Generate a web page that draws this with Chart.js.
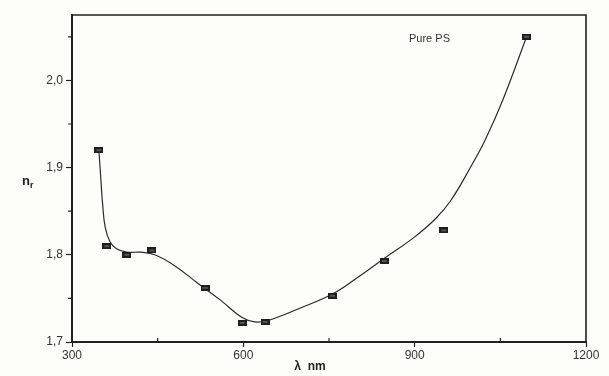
<!DOCTYPE html>
<html>
<head>
<meta charset="utf-8">
<script src="https://cdn.jsdelivr.net/npm/chart.js@4/dist/chart.umd.min.js"></script>
<style>
  html, body { margin: 0; padding: 0; background: #fdfdf9; }
  #wrap { width: 609px; height: 376px; }
</style>
</head>
<body>
<div id="wrap"><canvas id="c" width="609" height="376"></canvas></div>
<script>
// Measured refractive index of pure PS film vs. wavelength
const lambdaNm = [347, 361, 396, 440, 533, 598, 638, 756, 847, 951, 1096];
const nR       = [1.92, 1.81, 1.80, 1.805, 1.762, 1.722, 1.723, 1.753, 1.793, 1.828, 2.05];

// Smooth fitted curve through the measurements
const fitLambda = [347, 349.5, 353.5, 358, 366.5, 378, 396, 420, 445, 481, 519, 560, 598, 620, 645, 700, 756, 800, 847, 899, 936, 963, 1000, 1023, 1054, 1096];
const fitN      = [1.920, 1.897, 1.859, 1.832, 1.815, 1.807, 1.803, 1.803, 1.800, 1.787, 1.768, 1.748, 1.728, 1.723, 1.725, 1.739, 1.755, 1.774, 1.796, 1.820, 1.841, 1.862, 1.903, 1.931, 1.977, 2.050];

// Axis ticks
const xTicks = [300, 600, 900, 1200];
const xMinorTicks = [450, 750, 1050];
const yTicks = [1.7, 1.8, 1.9, 2.0];
const yMinorTicks = [1.75, 1.85, 1.95, 2.05];

const seriesLabel = 'Pure PS';
const xTitle = 'λ  nm';

// small flat rectangular marker
const marker = document.createElement('canvas');
marker.width = 9; marker.height = 6;
(function () {
  const g = marker.getContext('2d');
  g.fillStyle = '#1e1e1e';
  g.fillRect(0, 0, 9, 6);
  g.fillStyle = '#555';
  g.fillRect(2, 2, 5, 2);
})();

const ink = '#222';

const framePlugin = {
  id: 'frame',
  afterDraw(chart) {
    const { ctx, chartArea: a, scales } = chart;
    ctx.save();
    // top and right frame lines
    ctx.strokeStyle = ink;
    ctx.lineWidth = 1.6;
    ctx.beginPath();
    ctx.moveTo(a.left, a.top);
    ctx.lineTo(a.right, a.top);
    ctx.lineTo(a.right, a.bottom);
    ctx.stroke();

    // minor ticks
    ctx.lineWidth = 1.2;
    ctx.beginPath();
    yMinorTicks.forEach(v => {
      const y = scales.y.getPixelForValue(v);
      ctx.moveTo(a.left - 4, y);
      ctx.lineTo(a.left, y);
    });
    xMinorTicks.forEach(v => {
      const x = scales.x.getPixelForValue(v);
      ctx.moveTo(x, a.bottom);
      ctx.lineTo(x, a.bottom - 4);
    });
    ctx.stroke();

    // series label
    ctx.fillStyle = '#333';
    ctx.font = '11px "Liberation Sans", Arial, sans-serif';
    ctx.textBaseline = 'middle';
    ctx.textAlign = 'left';
    ctx.fillText(seriesLabel, 409, 39);

    // y-axis title n_r
    ctx.font = 'bold 13px "Liberation Sans", Arial, sans-serif';
    ctx.fillStyle = ink;
    ctx.fillText('n', 22, 181);
    ctx.font = 'bold 9px "Liberation Sans", Arial, sans-serif';
    ctx.fillText('r', 30, 186);

    // x-axis title
    ctx.font = 'bold 12px "Liberation Sans", Arial, sans-serif';
    ctx.textAlign = 'center';
    ctx.fillText(xTitle, 310, 367);
    ctx.restore();
  }
};

new Chart(document.getElementById('c'), {
  type: 'scatter',
  data: {
    datasets: [
      {
        label: 'fit',
        data: fitLambda.map((x, i) => ({ x, y: fitN[i] })),
        showLine: true,
        borderColor: '#2a2a2a',
        borderWidth: 1.2,
        pointRadius: 0,
        tension: 0.4,
        order: 2
      },
      {
        label: seriesLabel,
        data: lambdaNm.map((x, i) => ({ x, y: nR[i] })),
        showLine: false,
        pointStyle: marker,
        order: 1
      }
    ]
  },
  options: {
    responsive: false,
    animation: false,
    devicePixelRatio: 1,
    layout: { padding: { top: 15, right: 23, left: 0, bottom: 0 } },
    plugins: { legend: { display: false }, tooltip: { enabled: false } },
    scales: {
      x: {
        type: 'linear',
        min: 300, max: 1200,
        afterBuildTicks: s => { s.ticks = xTicks.map(v => ({ value: v })); },
        afterFit: s => { s.height = 34; },
        grid: { drawOnChartArea: false, tickLength: 5, tickColor: ink, tickWidth: 1.2 },
        border: { display: true, color: ink, width: 2 },
        ticks: {
          color: '#333', padding: 1, maxRotation: 0,
          font: { family: '"Liberation Sans", Arial, sans-serif', size: 12 },
          callback: v => String(v)
        }
      },
      y: {
        type: 'linear',
        min: 1.7, max: 2.075,
        afterBuildTicks: s => { s.ticks = yTicks.map(v => ({ value: v })); },
        afterFit: s => { s.width = 72; },
        grid: { drawOnChartArea: false, tickLength: 6, tickColor: ink, tickWidth: 1.2 },
        border: { display: true, color: ink, width: 2 },
        ticks: {
          color: '#333', padding: 3,
          font: { family: '"Liberation Sans", Arial, sans-serif', size: 12 },
          callback: v => v.toFixed(1).replace('.', ',')
        }
      }
    }
  },
  plugins: [framePlugin]
});
</script>
</body>
</html>
